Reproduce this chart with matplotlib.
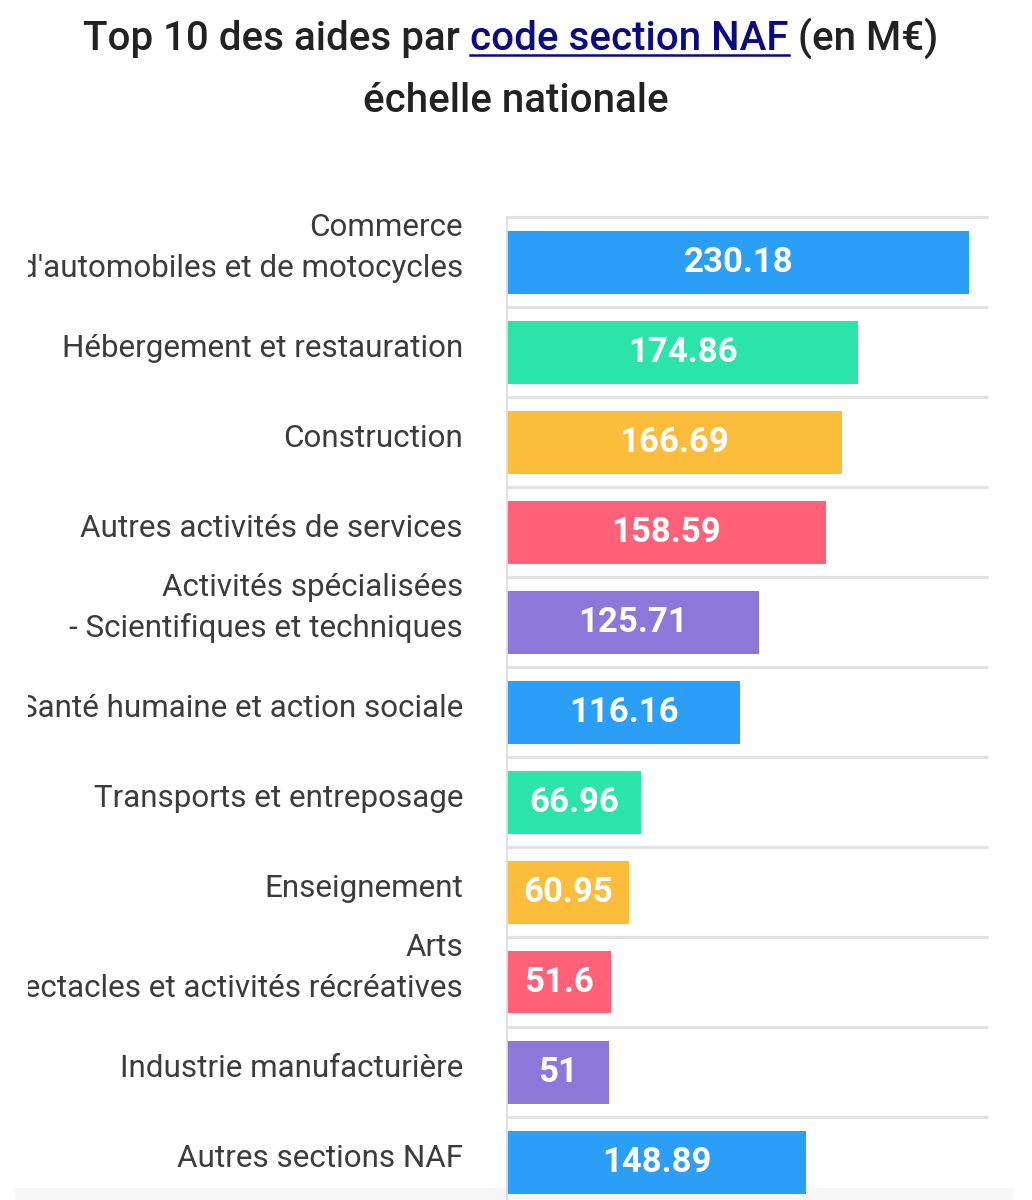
import numpy as np
import matplotlib
matplotlib.use("Agg")
import matplotlib.pyplot as plt
from matplotlib.transforms import Bbox, blended_transform_factory
from matplotlib.patches import Rectangle

# data
categories = [
    "Commerce\nd'automobiles et de motocycles",
    "Hébergement et restauration",
    "Construction",
    "Autres activités de services",
    "Activités spécialisées\n- Scientifiques et techniques",
    "Santé humaine et action sociale",
    "Transports et entreposage",
    "Enseignement",
    "Arts\n- Spectacles et activités récréatives",
    "Industrie manufacturière",
    "Autres sections NAF",
]
values = [230.18, 174.86, 166.69, 158.59, 125.71, 116.16, 66.96, 60.95, 51.6, 51, 148.89]
palette = ["#2b9ef7", "#2ae5a7", "#fcbd3d", "#ff6179", "#8b78d8"]
title_pre = "Top 10 des aides par"
title_link = "code section NAF"
title_post = "(en M€)"
title_line2 = "échelle nationale"

FONT = ["Roboto", "DejaVu Sans"]
plt.rcParams["font.family"] = FONT

W, H = 1032, 1200
fig = plt.figure(figsize=(W / 100, H / 100), dpi=100)
fig.patch.set_facecolor("white")

# faint band at the very bottom (scroll shadow in the screenshot)
fig.add_artist(Rectangle((15 / W, 0), 998 / W, 12 / H, transform=fig.transFigure,
                         facecolor="#f7f7f7", edgecolor="none", zorder=-10))

ax = fig.add_axes([507 / W, 1 - 1207 / H, 481 / W, 990 / H])
ax.set_facecolor("none")

n = len(categories)
y = np.arange(n)
colors = [palette[i % len(palette)] for i in range(n)]
xmax = 239.5

ax.hlines(np.arange(n + 1) - 0.5, 0, xmax, color="#e3e3e3", lw=2.3, zorder=0, clip_on=False)
ax.barh(y, values, height=63 / 90, color=colors, zorder=2)
ax.set_xlim(0, xmax)
ax.set_ylim(n - 0.5, -0.5)

for s in ["top", "right", "bottom"]:
    ax.spines[s].set_visible(False)
ax.spines["left"].set_color("#dedede")
ax.spines["left"].set_linewidth(1.3)
ax.set_xticks([])
ax.set_yticks([])

# value labels inside bars
for i, v in enumerate(values):
    ax.text(v / 2, i, f"{v:g}", ha="center", va="center", color="white",
            fontsize=25, fontweight="bold", zorder=3)

# category labels, clipped on the left like the screenshot
trans = blended_transform_factory(ax.transAxes, ax.transData)
clip = Bbox.from_extents(28, 0, 507, H)
for i, lab in enumerate(categories):
    lines = lab.split("\n")
    m = len(lines)
    for k, line in enumerate(lines):
        off = (5 + 10 * (m - 1) - 41 * (m - 1 - k)) / 90
        t = ax.text(-44 / 481, i + off, line, transform=trans, ha="right", va="baseline",
                    fontsize=22.6, color="#3c3c3c", clip_on=True)
        t.set_clip_box(clip)

# title with the underlined link part
renderer = fig.canvas.get_renderer()
tfs = 29
tkw = dict(fontsize=tfs, fontweight="medium", va="baseline")


def text_w(s):
    t = fig.text(0, 0, s, **tkw)
    w = t.get_window_extent(renderer).width
    t.remove()
    return w


sp = text_w("a a") - text_w("aa")
w_pre, w_link, w_post = text_w(title_pre), text_w(title_link), text_w(title_post)
total = w_pre + w_link + w_post + 2 * sp
x0 = 511 - total / 2
yb = 1 - 50 / H
fig.text(x0 / W, yb, title_pre, color="#222222", **tkw)
xl = x0 + w_pre + sp
fig.text(xl / W, yb, title_link, color="#0a0a85", **tkw)
fig.add_artist(plt.Line2D([xl / W, (xl + w_link) / W], [1 - 55 / H, 1 - 55 / H],
                          transform=fig.transFigure, color="#0a0a85", lw=1.8))
fig.text((xl + w_link + sp) / W, yb, title_post, color="#222222", **tkw)
fig.text(516 / W, 1 - 112 / H, title_line2, ha="center", color="#222222", **tkw)

fig.savefig("out.png", dpi=100)
